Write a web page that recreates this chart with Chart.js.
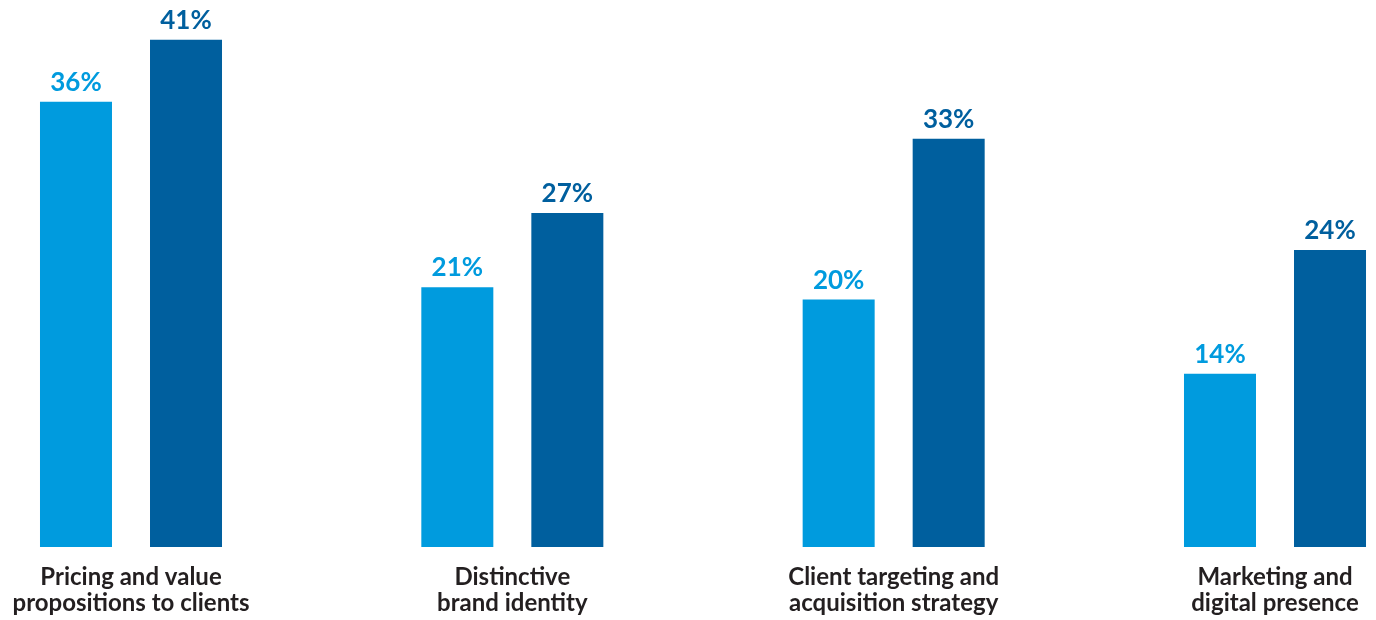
<!DOCTYPE html>
<html>
<head>
<meta charset="utf-8">
<script src="https://cdn.jsdelivr.net/npm/chart.js@4/dist/chart.umd.min.js"></script>
<style>
  html, body { margin: 0; padding: 0; background: #ffffff; }
  #wrap { width: 1376px; height: 620px; position: relative; }
</style>
</head>
<body>
<div id="wrap"><canvas id="c" width="1376" height="620"></canvas></div>
<script>
const categories = [
  ["Pricing and value", "propositions to clients"],
  ["Distinctive", "brand identity"],
  ["Client targeting and", "acquisition strategy"],
  ["Marketing and", "digital presence"]
];
const seriesA = [36, 21, 20, 14];
const seriesB = [41, 27, 33, 24];
const colorA = "#009BDE";
const colorB = "#005F9E";

const valueLabels = {
  id: "valueLabels",
  afterDatasetsDraw(chart) {
    const ctx = chart.ctx;
    ctx.save();
    ctx.font = "700 26px Lato";
    ctx.textAlign = "center";
    ctx.textBaseline = "alphabetic";
    chart.data.datasets.forEach((ds, i) => {
      const meta = chart.getDatasetMeta(i);
      ctx.fillStyle = ds.backgroundColor;
      meta.data.forEach((bar, j) => {
        ctx.fillText(ds.data[j] + "%", bar.x, bar.y - 11);
      });
    });
    ctx.restore();
  }
};

new Chart(document.getElementById("c"), {
  type: "bar",
  data: {
    labels: categories,
    datasets: [
      { data: seriesA, backgroundColor: colorA, clip: false },
      { data: seriesB, backgroundColor: colorB, clip: false }
    ]
  },
  options: {
    responsive: false,
    animation: false,
    layout: { padding: { left: 131, right: 101, top: 0, bottom: 0 } },
    categoryPercentage: 0.577,
    barPercentage: 0.6545,
    plugins: { legend: { display: false }, tooltip: { enabled: false } },
    scales: {
      x: {
        offset: false,
        grid: { display: false, drawTicks: false },
        border: { display: false },
        ticks: {
          color: "#231F20",
          font: { family: "Lato", weight: "700", size: 24, lineHeight: 1.1 },
          padding: 17,
          maxRotation: 0,
          autoSkip: false
        },
        afterFit: (s) => { s.height = 73; s.paddingLeft = 0; s.paddingRight = 0; }
      },
      y: {
        display: false,
        min: 0,
        max: 44.22
      }
    }
  },
  plugins: [valueLabels]
});
</script>
</body>
</html>
